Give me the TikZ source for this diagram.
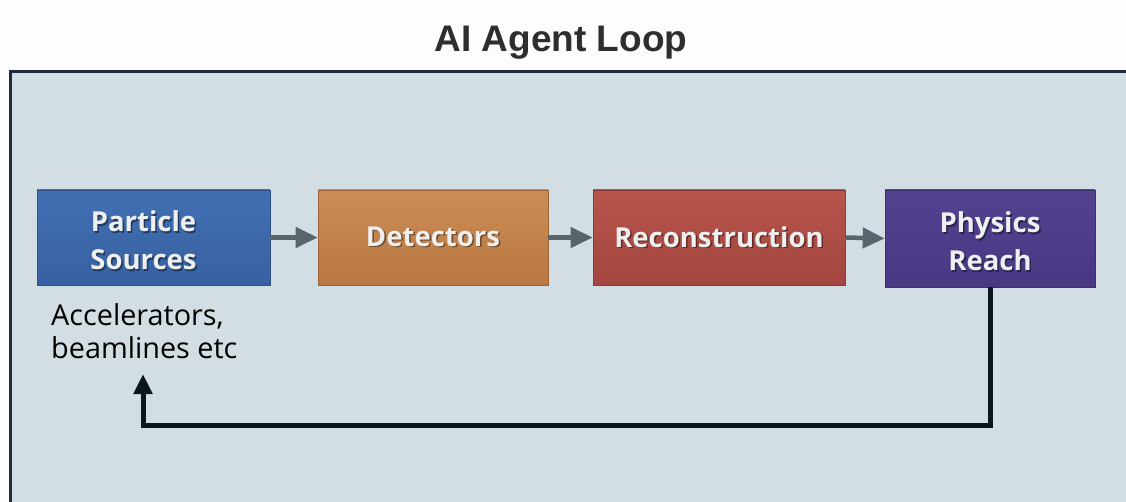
\documentclass[tikz,border=0pt]{standalone}
\usepackage{fontspec}
\setmainfont{Open Sans}
\newfontfamily\titlefont{Liberation Sans}
\usetikzlibrary{arrows.meta,shadings}

\definecolor{pagebg}{HTML}{FDFDFD}
\definecolor{panelbg}{HTML}{D3DDE4}
\definecolor{panelframe}{HTML}{1F2B38}
\definecolor{titlecol}{HTML}{2E2E2E}
\definecolor{boxtext}{HTML}{EEF0F0}
\definecolor{flowgrey}{HTML}{59646D}
\definecolor{loopblack}{HTML}{0D151D}
\definecolor{bluetop}{HTML}{4170B2}
\definecolor{bluebot}{HTML}{3760A2}
\definecolor{orangetop}{HTML}{CB8D57}
\definecolor{orangebot}{HTML}{B97741}
\definecolor{redtop}{HTML}{B8554C}
\definecolor{redbot}{HTML}{A2463F}
\definecolor{purpletop}{HTML}{53428F}
\definecolor{purplebot}{HTML}{483884}

% white label with a soft drop shadow
\newcommand\shtext[2]{\makebox[0pt][l]{\kern1.5pt\raisebox{-1.5pt}{\color{#1!60!black}#2}}#2}
% taller first line so two-line labels sit a little lower in their box
\newcommand\topstrut{\rule{0pt}{28pt}}

\tikzset{
  stagebox/.style={minimum height=95pt, inner sep=0pt, align=center,
    font=\bfseries\fontsize{27.5}{38}\selectfont, text=boxtext, line width=0.6pt},
  flow/.style={draw=flowgrey, line width=4.5pt,
    -{Triangle[length=22pt,width=20pt]}},
  feedback/.style={draw=loopblack, line width=5pt, line join=miter,
    -{Triangle[length=20pt,width=18pt]}},
}

\begin{document}
\begin{tikzpicture}[x=1pt,y=-1pt]
  \useasboundingbox (0,0) rectangle (1126,502);
  \fill[pagebg] (0,0) rectangle (1126,502);

  % title
  \node[anchor=base, text=titlecol, font=\titlefont\bfseries\fontsize{37}{40}\selectfont]
    (title) at (561,52) {AI Agent Loop};

  % panel
  \fill[panelbg] (10,72) rectangle (1126,502);
  \draw[panelframe, line width=3pt] (1128,72) -- (10,72) -- (10,504);

  % stages
  \node[stagebox, minimum width=233pt, top color=bluetop, bottom color=bluebot,
        draw=bluebot!85!black]
    (src) at (153.5,237.5)
    {\topstrut\shtext{bluebot}{Particle}\hspace*{20pt}\\\shtext{bluebot}{Sources}\hspace*{20pt}};
  \node[stagebox, minimum width=230pt, top color=orangetop, bottom color=orangebot,
        draw=orangebot!85!black]
    (det) at (433,237.5) {\shtext{orangebot}{Detectors}};
  \node[stagebox, minimum width=252pt, top color=redtop, bottom color=redbot,
        draw=redbot!85!black]
    (reco) at (719,237.5) {\shtext{redbot}{Reconstruction}};
  \node[stagebox, minimum width=210pt, minimum height=97pt, top color=purpletop,
        bottom color=purplebot, draw=purplebot!85!black]
    (phys) at (990,238.5)
    {\topstrut\shtext{purplebot}{Physics}\\\shtext{purplebot}{Reach}};

  % note under the first stage
  \node[anchor=north west, align=left, text=black, inner sep=0pt,
        font=\fontsize{28.8}{33}\selectfont]
    (note) at (51,303) {Accelerators,\\beamlines etc};

  % forward flow
  \draw[flow] (src.east) -- (det.west);
  \draw[flow] (det.east) -- (reco.west);
  \draw[flow] (reco.east) -- (phys.west);

  % feedback loop
  \coordinate (loopcorner) at (143,425);
  \coordinate (loopend) at (143,374);
  \draw[feedback] (phys.south) |- (loopcorner) -- (loopend);
\end{tikzpicture}
\end{document}
